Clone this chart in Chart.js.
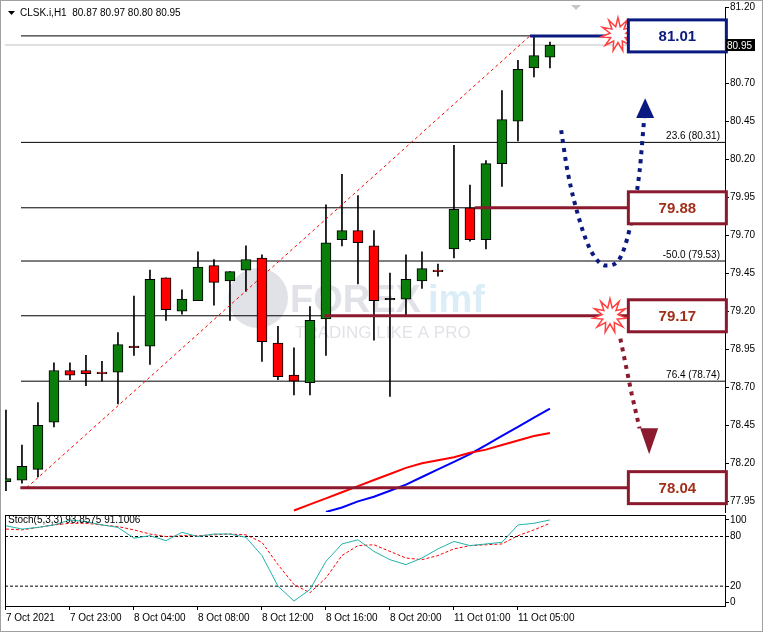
<!DOCTYPE html>
<html>
<head>
<title>CLSK.i H1</title>
<script src="https://cdn.jsdelivr.net/npm/chart.js"></script>
<style>
  body { margin: 0; background: #fff; width: 763px; height: 632px; overflow: hidden; font-family: "Liberation Sans", Arial, sans-serif; }
  #frame { position: absolute; left: 0; top: 0; width: 761px; height: 630px; border: 1px solid #a0a0a0; }
  canvas { position: absolute; left: 0; }
</style>
</head>
<body>
<div id="frame"></div>
<canvas id="mainChart" width="763" height="519" style="top:0"></canvas>
<canvas id="stochChart" width="763" height="124" style="top:508px"></canvas>
<script>
// hourly candles, index 0 = 7 Oct 19:00
const opens  = [78.08,78.09,78.16,78.47,78.81,78.81,78.80,78.80,78.97,78.97,79.42,79.20,79.27,79.50,79.40,79.47,79.55,78.99,78.78,78.73,79.15,79.67,79.73,79.63,79.28,79.28,79.40,79.47,79.61,79.88,79.67,80.17,80.45,80.80,80.87];
const closes = [78.10,78.18,78.45,78.81,78.78,78.79,78.79,78.98,78.96,79.41,79.21,79.28,79.49,79.39,79.46,79.54,79.00,78.77,78.74,79.14,79.65,79.73,79.65,79.27,79.28,79.41,79.48,79.46,79.87,79.67,80.17,80.46,80.79,80.88,80.95];
const highs  = [78.55,78.32,78.60,78.86,78.86,78.91,78.87,79.06,79.30,79.47,79.42,79.34,79.59,79.54,79.46,79.63,79.57,79.10,78.96,79.23,79.90,80.10,79.96,79.73,79.45,79.57,79.59,79.51,80.29,80.03,80.19,80.65,80.85,81.01,80.97];
const lows   = [78.02,78.07,78.11,78.44,78.75,78.71,78.74,78.59,78.91,78.85,79.14,79.18,79.27,79.24,79.14,79.33,78.87,78.75,78.65,78.65,78.91,79.63,79.38,79.01,78.64,79.17,79.35,79.43,79.55,79.66,79.61,80.02,80.32,80.74,80.80];
const maRed  = [null,null,null,null,null,null,null,null,null,null,null,null,null,null,null,null,null,null,77.89,77.93,77.97,78.01,78.05,78.09,78.13,78.17,78.20,78.22,78.24,78.27,78.29,78.32,78.35,78.38,78.40];
const maBlue = [null,null,null,null,null,null,null,null,null,null,null,null,null,null,null,null,null,null,null,null,77.88,77.91,77.95,77.98,78.02,78.06,78.11,78.16,78.21,78.26,78.32,78.38,78.44,78.50,78.56];
const stochMain   = [93,89,91,94,100,98,94,91,78,81,75,85,80,83,83,79,57,20,2,16,50,71,76,62,52,46,54,65,74,69,71,73,94,96,100];
const stochSignal = [89,88,91,94,96,96,94,92,88,83,80,81,81,82,83,82,73,46,22,12,30,57,69,70,62,54,52,57,65,69,70,71,81,88,96];
const timeTicks  = [0,4,8,12,16,20,24,28,32];
const timeLabels = ['7 Oct 2021','7 Oct 23:00','8 Oct 04:00','8 Oct 08:00','8 Oct 12:00','8 Oct 16:00','8 Oct 20:00','11 Oct 01:00','11 Oct 05:00'];
const priceTicks = [77.95,78.20,78.45,78.70,78.95,79.20,79.45,79.70,79.95,80.20,80.45,80.70,80.95,81.20];
const fibLevels  = [81.01,80.31,79.88,79.53,79.17,78.74,78.04];
const fibLabels  = {80.31:'23.6 (80.31)', 79.53:'-50.0 (79.53)', 78.74:'76.4 (78.74)'};
const targets    = [81.01,79.88,79.17,78.04];
const targetStart = [32.75,29.3,19.9,0.9];
const trendFrom = [1.3,78.04], trendTo = [32.75,81.01];
const curveX = [34.7,35.1,35.9,36.6,37.5,38.25,39,39.6,39.9];
const curveY = [80.39,80.12,79.78,79.59,79.50,79.53,79.75,80.12,80.48];
const dropX = [38.4,39.1,39.6];
const dropY = [79.02,78.66,78.43];
const lastPrice = 80.95;

const X_MIN = -0.06, X_MAX = 44.94;
const GREEN = '#0b7d0b', RED = '#ff0000', DARKRED = '#8b1a2e', NAVY = '#0a1a80';

const idx = opens.map((_, i) => i);
const wicks = idx.map(i => ({x: i, y: [lows[i], highs[i]]}));
const bodies = idx.map(i => {
  const o = opens[i], c = closes[i];
  return {x: i, y: o === c ? [o - 0.004, o + 0.004] : [Math.min(o, c), Math.max(o, c)]};
});
const bodyColors = idx.map(i => closes[i] > opens[i] ? GREEN : (closes[i] < opens[i] ? RED : '#000'));
const hline = (y, x0, color, w, dash) => ({
  type: 'line', data: [{x: x0, y: y}, {x: X_MAX, y: y}], borderColor: color, borderWidth: w,
  borderDash: dash || [], pointRadius: 0, order: 5
});

const datasets = [
  {type: 'bar', data: wicks, backgroundColor: '#000', barThickness: 1, grouped: false, order: 3},
  {type: 'bar', data: bodies, backgroundColor: bodyColors, borderColor: '#000', borderWidth: 1,
   borderSkipped: false, barThickness: 10, grouped: false, order: 2},
  {type: 'line', data: idx.map(i => ({x: i, y: maRed[i]})), borderColor: RED, borderWidth: 2, pointRadius: 0, order: 4},
  {type: 'line', data: idx.map(i => ({x: i, y: maBlue[i]})), borderColor: '#0000ff', borderWidth: 2, pointRadius: 0, order: 4},
  hline(lastPrice, X_MIN, '#c0c0c0', 1),
  ...fibLevels.map(l => hline(l, 0.94, '#000', 1)),
  ...targets.map((t, i) => ({type: 'line', data: [{x: targetStart[i], y: t}, {x: 39, y: t}],
    borderColor: i === 0 ? NAVY : DARKRED, borderWidth: 3, pointRadius: 0, order: 1})),
  {type: 'line', data: [{x: trendFrom[0], y: trendFrom[1]}, {x: trendTo[0], y: trendTo[1]}],
   borderColor: RED, borderWidth: 1, borderDash: [3, 3], pointRadius: 0, order: 1},
  {type: 'line', data: curveX.map((x, i) => ({x: x, y: curveY[i]})), borderColor: NAVY, borderWidth: 4,
   borderDash: [4, 5], cubicInterpolationMode: 'monotone', tension: 0.4, pointRadius: 0, order: 1},
  {type: 'line', data: dropX.map((x, i) => ({x: x, y: dropY[i]})), borderColor: DARKRED, borderWidth: 4,
   borderDash: [4, 5], pointRadius: 0, order: 1}
];

function star(ctx, cx, cy, r1, r2, n) {
  ctx.beginPath();
  for (let i = 0; i < n * 2; i++) {
    const r = i % 2 ? r2 : r1, a = Math.PI * i / n - Math.PI / 2;
    ctx.lineTo(cx + r * Math.cos(a), cy + r * Math.sin(a));
  }
  ctx.closePath();
  ctx.fillStyle = '#fff'; ctx.fill();
  ctx.strokeStyle = '#ff4040'; ctx.lineWidth = 1.5; ctx.stroke();
}

const overlay = {
  id: 'overlay',
  beforeDatasetsDraw(chart) {
    const ctx = chart.ctx;
    ctx.save();
    // watermark
    ctx.globalAlpha = 0.18;
    ctx.fillStyle = '#5a5a80';
    ctx.beginPath(); ctx.arc(258, 298, 30, 0, Math.PI * 2); ctx.fill();
    ctx.font = 'bold 38px "Liberation Sans"';
    ctx.fillText('FOREX', 290, 312);
    ctx.fillStyle = '#3a9ad0';
    ctx.fillText('imf', 428, 312);
    ctx.fillStyle = '#5a5a80';
    ctx.font = '17px "Liberation Sans"';
    ctx.fillText('TRADING LIKE A PRO', 295, 338);
    ctx.restore();
  },
  afterDatasetsDraw(chart) {
    const ctx = chart.ctx, xs = chart.scales.x, ys = chart.scales.y;
    ctx.save();
    // fib labels
    ctx.fillStyle = '#000'; ctx.font = '10px "Liberation Sans"'; ctx.textAlign = 'right';
    Object.keys(fibLabels).forEach(k => ctx.fillText(fibLabels[k], 720, ys.getPixelForValue(+k) - 3));
    // arrowheads
    const arrow = (x, yBase, yTip, color) => {
      ctx.beginPath(); ctx.moveTo(x - 9, yBase); ctx.lineTo(x + 9, yBase); ctx.lineTo(x, yTip); ctx.closePath();
      ctx.fillStyle = color; ctx.fill();
    };
    arrow(xs.getPixelForValue(39.95), ys.getPixelForValue(80.47), ys.getPixelForValue(80.6), NAVY);
    arrow(xs.getPixelForValue(40.2), ys.getPixelForValue(78.43), ys.getPixelForValue(78.26), DARKRED);
    // starbursts
    star(ctx, xs.getPixelForValue(38.25), ys.getPixelForValue(81.02), 17, 8, 11);
    star(ctx, xs.getPixelForValue(37.75), ys.getPixelForValue(79.17), 17, 8, 11);
    // target boxes
    targets.forEach((t, i) => {
      const x = xs.getPixelForValue(38.9), y = ys.getPixelForValue(t) - 16;
      ctx.fillStyle = '#fff'; ctx.fillRect(x, y, 98, 32);
      ctx.strokeStyle = i === 0 ? NAVY : DARKRED; ctx.lineWidth = 3; ctx.strokeRect(x, y, 98, 32);
      ctx.fillStyle = i === 0 ? NAVY : '#a0301a';
      ctx.font = 'bold 15px "Liberation Sans"'; ctx.textAlign = 'center'; ctx.textBaseline = 'middle';
      ctx.fillText(t.toFixed(2), x + 49, y + 17);
    });
    ctx.restore();
  },
  afterDraw(chart) {
    const ctx = chart.ctx, ys = chart.scales.y;
    ctx.save();
    const y = ys.getPixelForValue(lastPrice);
    ctx.fillStyle = '#000'; ctx.fillRect(726, y - 6, 29, 12);
    ctx.fillStyle = '#fff'; ctx.font = '10px "Liberation Sans"'; ctx.textBaseline = 'middle';
    ctx.fillText(lastPrice.toFixed(2), 727, y + 1);
    // header
    ctx.fillStyle = '#000';
    ctx.beginPath(); ctx.moveTo(8, 11); ctx.lineTo(15, 11); ctx.lineTo(11.5, 15); ctx.closePath(); ctx.fill();
    ctx.font = '10px "Liberation Sans"';
    ctx.fillText('CLSK.i,H1  80.87 80.97 80.80 80.95', 20, 13);
    ctx.fillStyle = '#c8c8c8';
    ctx.beginPath(); ctx.moveTo(571, 5); ctx.lineTo(581, 5); ctx.lineTo(576, 10); ctx.closePath(); ctx.fill();
    ctx.restore();
  }
};

const rightAxis = (ticks, fmt) => ({
  position: 'right',
  afterFit: s => { s.width = 38; },
  afterBuildTicks: s => { s.ticks = ticks.map(v => ({value: v})); },
  grid: {drawOnChartArea: false, tickLength: 4, color: '#000'},
  border: {color: '#000'},
  ticks: {color: '#000', font: {family: 'Liberation Sans', size: 10}, padding: 1, callback: fmt}
});

new Chart(document.getElementById('mainChart'), {
  data: {datasets: datasets},
  options: {
    responsive: false, animation: false, events: [],
    layout: {padding: {left: 5, top: 6, bottom: 0, right: 0}},
    plugins: {legend: {display: false}, tooltip: {enabled: false}},
    scales: {
      x: {type: 'linear', min: X_MIN, max: X_MAX, offset: false, display: false},
      y: Object.assign(rightAxis(priceTicks, v => v.toFixed(2)), {min: 77.88, max: 81.20})
    }
  },
  plugins: [overlay]
});

const stochHeader = {
  id: 'stochHeader',
  afterDraw(chart) {
    const ctx = chart.ctx;
    ctx.save();
    ctx.fillStyle = '#000'; ctx.font = '10px "Liberation Sans"';
    ctx.fillText('Stoch(5,3,3) 93.8575 91.1006', 8, 15);
    const a = chart.chartArea;
    ctx.strokeStyle = '#000'; ctx.lineWidth = 1;
    ctx.strokeRect(a.left + 0.5, a.top + 0.5, a.right - a.left, a.bottom - a.top);
    ctx.restore();
  }
};

new Chart(document.getElementById('stochChart'), {
  data: {datasets: [
    {type: 'line', data: idx.map(i => ({x: i, y: stochMain[i]})), borderColor: '#20b2aa', borderWidth: 1, pointRadius: 0, tension: 0},
    {type: 'line', data: idx.map(i => ({x: i, y: stochSignal[i]})), borderColor: RED, borderWidth: 1, borderDash: [3, 2], pointRadius: 0},
    {type: 'line', data: [{x: X_MIN, y: 80}, {x: X_MAX, y: 80}], borderColor: '#000', borderWidth: 1, borderDash: [3, 2], pointRadius: 0},
    {type: 'line', data: [{x: X_MIN, y: 20}, {x: X_MAX, y: 20}], borderColor: '#000', borderWidth: 1, borderDash: [3, 2], pointRadius: 0}
  ]},
  options: {
    responsive: false, animation: false, events: [],
    layout: {padding: {left: 5, top: 4, bottom: 6, right: 0}},
    plugins: {legend: {display: false}, tooltip: {enabled: false}},
    scales: {
      x: {
        type: 'linear', min: X_MIN, max: X_MAX, offset: false,
        afterBuildTicks: s => { s.ticks = timeTicks.map(v => ({value: v})); },
        grid: {drawOnChartArea: false, tickLength: 4, color: '#000'},
        border: {color: '#000'},
        ticks: {color: '#000', font: {family: 'Liberation Sans', size: 10}, align: 'start', maxRotation: 0, padding: 2,
                callback: v => timeLabels[timeTicks.indexOf(v)]}
      },
      y: Object.assign(rightAxis([0, 20, 80, 100], v => v), {min: -4, max: 106})
    }
  },
  plugins: [stochHeader]
});
</script>
</body>
</html>
